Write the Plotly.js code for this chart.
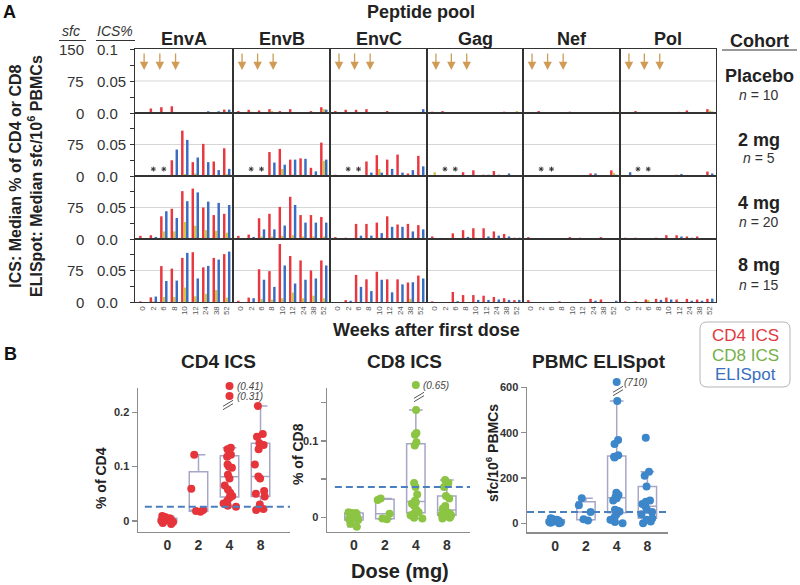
<!DOCTYPE html>
<html><head><meta charset="utf-8">
<script src="https://cdn.plot.ly/plotly-3.0.1.min.js"></script>
<style>body{margin:0;background:#fff}#chart{width:800px;height:585px}</style>
</head><body><div id="chart"></div>
<script>
// ---------------- DATA ----------------
const weeks = ['0','2','6','8','10','12','24','38','52'];
const doseWeeks = [0, 4, 8];
const pools = ['EnvA','EnvB','EnvC','Gag','Nef','Pol'];
const cohorts = ['Placebo','2 mg','4 mg','8 mg'];
const cohortN = [10, 5, 20, 15];
const icsTickVals = [0, 0.05, 0.1];
const icsTickText = ['0.0', '0.05', '0.1'];
const sfcTickText = ['0', '75', '150'];
const sfcPer01 = 150; // 150 sfc/10^6 PBMCs <-> 0.1 %

// CD4 ICS median % ; rows = Placebo, 2 mg, 4 mg, 8 mg
const cd4_EnvA = [
  [0, 0.007, 0.009, 0.0105, 0.001, 0.0015, 0, 0.0016, 0.0053],
  [0.001, null, null, 0.025, 0.072, 0.022, 0.051, 0.023, 0.044],
  [0.005, 0.006, 0.036, 0.048, 0.076, 0.080, 0.050, 0.038, 0.040],
  [0.001, 0.0074, 0.057, 0.053, 0.070, 0.079, 0.055, 0.070, 0.076]];
const cd4_EnvB = [
  [0.003, 0.005, 0.004, 0.006, 0.003, 0.006, 0, 0.003, 0.009],
  [0.001, null, null, 0.038, 0.043, 0.026, 0.028, 0.013, 0.053],
  [0.005, 0.007, 0.033, 0.040, 0.051, 0.067, 0.038, 0.038, 0.035],
  [0.002, 0.007, 0.052, 0.049, 0.092, 0.073, 0.066, 0.050, 0.066]];
const cd4_EnvC = [
  [0.003, 0.005, 0.005, 0.006, 0, 0.003, 0.001, 0.001, 0],
  [0.002, null, null, 0.023, 0.033, 0.026, 0.034, 0.004, 0.032],
  [0.003, 0.002, 0.024, 0.024, 0.026, 0.036, 0.023, 0.024, 0.022],
  [0, 0.003, 0.043, 0.036, 0.048, 0.036, 0.036, 0.031, 0.042]];
const cd4_Gag = [
  [0.002, 0.003, 0.001, 0, 0, 0, 0, 0.002, 0],
  [0, null, null, 0.006, 0.009, 0.002, 0.008, 0, 0],
  [0.004, 0.001, 0.009, 0.014, 0.017, 0.017, 0.012, 0.008, 0.002],
  [0.001, 0, 0.016, 0.011, 0.011, 0.010, 0.008, 0.006, 0.003]];
const cd4_Nef = [
  [0, 0.003, 0, 0, 0.002, 0, 0, 0, 0],
  [0, null, null, 0, 0, 0, 0.004, 0, 0.009],
  [0.003, 0, 0.001, 0.001, 0.003, 0.002, 0, 0.003, 0],
  [0.003, 0, 0, 0.001, 0, 0, 0.005, 0.004, 0]];
const cd4_Pol = [
  [0, 0.003, 0, 0.0015, 0, 0, 0.004, 0, 0.006],
  [0, null, null, 0, 0.001, 0.002, 0.001, 0.001, 0.007],
  [0.002, 0.002, 0.001, 0.002, 0.006, 0.006, 0.004, 0.004, 0],
  [0.001, 0.001, 0.004, 0.005, 0.007, 0.004, 0.005, 0.004, 0.005]];

// CD8 ICS median %
const cd8_EnvA = [
  [0, 0, 0, 0, 0, 0, 0, 0, 0.002],
  [0, null, null, 0.002, 0.003, 0.004, 0.002, 0.001, 0.003],
  [0, 0.001, 0.012, 0.012, 0.027, 0.021, 0.014, 0.013, 0.010],
  [0, 0.001, 0.008, 0.008, 0.023, 0.009, 0.013, 0.019, 0.007]];
const cd8_EnvB = [
  [0, 0.002, 0, 0.003, 0, 0, 0, 0, 0.006],
  [0, null, null, 0.002, 0.011, 0.002, 0.002, 0.001, 0.024],
  [0, 0, 0.004, 0.004, 0.005, 0.006, 0.004, 0.004, 0.004],
  [0, 0, 0.005, 0.004, 0.006, 0.015, 0.006, 0.010, 0.006]];
const cd8_EnvC = [
  [0, 0, 0, 0, 0, 0, 0, 0, 0],
  [0, null, null, 0, 0.011, 0, 0, 0, 0],
  [0, 0, 0, 0, 0.002, 0, 0, 0, 0],
  [0, 0, 0, 0, 0, 0, 0, 0.005, 0]];
const cd8_Gag = [
  [0, 0, 0, 0, 0, 0, 0, 0, 0.003],
  [0.006, null, null, 0, 0, 0, 0, 0, 0],
  [0, 0, 0, 0, 0.002, 0, 0, 0, 0],
  [0, 0, 0, 0, 0, 0, 0, 0, 0]];
const cd8_Nef = [
  [0, 0, 0, 0, 0, 0, 0, 0, 0.002],
  [0, null, null, 0, 0, 0, 0, 0, 0.005],
  [0, 0, 0, 0, 0, 0, 0, 0, 0],
  [0, 0, 0, 0, 0, 0, 0, 0, 0]];
const cd8_Pol = [
  [0, 0, 0, 0, 0, 0.002, 0, 0, 0.004],
  [0, null, null, 0, 0, 0, 0, 0, 0],
  [0, 0, 0, 0, 0, 0, 0, 0, 0],
  [0, 0, 0.003, 0, 0, 0, 0, 0, 0]];

// ELISpot median sfc/10^6 PBMCs
const eli_EnvA = [
  [0, 0, 0, 0, 0, 1.5, 4, 4, 8],
  [0, null, null, 63, 86, 44, 33, 14, 17],
  [0, 5, 66, 50, 90, 111, 89, 86, 81],
  [0, 13, 50, 51, 117, 56, 86, 101, 120]];
const eli_EnvB = [
  [0, 0, 0, 0, 0, 0, 0, 0, 8],
  [0, null, null, 32, 27, 39, 41, 11, 39],
  [0, 5, 23, 23, 32, 81, 39, 39, 39],
  [0, 9, 53, 36, 87, 44, 53, 56, 87]];
const eli_EnvC = [
  [0, 0, 0, 0, 0, 0, 0, 0, 9],
  [0, null, null, 8, 8, 17, 8, 14, 23],
  [0, 2, 8, 8, 14, 29, 29, 18, 23],
  [0, 3, 36, 26, 53, 23, 42, 47, 56]];
const eli_Gag = [
  [0, 0, 0, 0, 0, 2, 0, 0, 0],
  [0, null, null, 0, 0, 3, 3, 6, 0],
  [0, 0, 0, 5, 0, 6, 8, 6, 3],
  [0, 0, 2, 0, 5, 5, 6, 5, 5]];
const eli_Nef = [
  [0, 0, 0, 0, 0, 0, 0, 0, 0],
  [0, null, null, 0, 0, 0, 6, 0, 3],
  [0, 0, 0, 0, 0, 0, 0, 0, 0],
  [0, 0, 0, 0, 0, 0, 3, 0, 3]];
const eli_Pol = [
  [0, 0, 0, 0, 0, 0, 0, 0, 3],
  [9, null, null, 0, 0, 5, 0, 0, 6],
  [0, 0, 0, 0, 0, 6, 3, 0, 0],
  [0, 0, 0, 5, 6, 0, 3, 3, 8]];

// Panel B: individual responses by dose
const doses = ['0', '2', '4', '8'];
const cd4Dose0 = [-0.006, -0.004, -0.002, 0, 0.001, 0.002, 0.003, 0.005, 0.007, 0.009];
const cd4Dose2 = [0.017, 0.018, 0.02, 0.059, 0.122];
const cd4Dose4 = [0.026, 0.028, 0.032, 0.037, 0.042, 0.046, 0.052, 0.058, 0.065, 0.078,
                  0.085, 0.098, 0.10, 0.104, 0.118, 0.122, 0.132, 0.135, 0.31, 0.41];
const cd4Dose8 = [0.02, 0.022, 0.03, 0.045, 0.05, 0.055, 0.078, 0.082, 0.104, 0.132, 0.14, 0.143, 0.155, 0.16, 0.212];
const cd8Dose0 = [-0.012, -0.008, -0.003, -0.002, 0, 0.001, 0.003, 0.006, 0.006, 0.007];
const cd8Dose2 = [-0.002, -0.001, 0.005, 0.023, 0.025];
const cd8Dose4 = [-0.001, 0, 0.003, 0.005, 0.006, 0.007, 0.01, 0.015, 0.018, 0.02,
                  0.022, 0.03, 0.04, 0.045, 0.094, 0.098, 0.108, 0.11, 0.14, 0.65];
const cd8Dose8 = [-0.001, 0, 0.002, 0.003, 0.004, 0.005, 0.008, 0.01, 0.012, 0.015, 0.025, 0.028, 0.04, 0.045, 0.049];
const eliDose0 = [0, 2, 3, 5, 8, 10, 12, 15, 18, 22];
const eliDose2 = [12, 18, 50, 80, 110];
const eliDose4 = [0, 5, 15, 28, 40, 52, 55, 60, 100, 110, 115, 125, 135, 290, 294, 300, 350, 368, 540, 710];
const eliDose8 = [0, 8, 15, 22, 40, 50, 60, 75, 85, 95, 100, 162, 210, 228, 378];
const cutoffs = [0.026, 0.04, 50]; // positivity thresholds: CD4, CD8, ELISpot

// ---------------- LAYOUT HELPERS ----------------
const W = 800, H = 585;
const px = x => x / W;
const py = y => 1 - y / H;
const FONT = 'Liberation Sans, Arial, Helvetica, sans-serif';
const pal = {cd4: '#e8373e', cd8: '#d2c44c', eli: '#3a6dc2'};
const dotPal = {cd4: '#e6343b', cd8: '#8cc443', eli: '#3c86ca'};

const cd4All = [cd4_EnvA, cd4_EnvB, cd4_EnvC, cd4_Gag, cd4_Nef, cd4_Pol];
const cd8All = [cd8_EnvA, cd8_EnvB, cd8_EnvC, cd8_Gag, cd8_Nef, cd8_Pol];
const eliAll = [eli_EnvA, eli_EnvB, eli_EnvC, eli_Gag, eli_Nef, eli_Pol];

const colEdges = [135, 233, 330, 427, 523, 620, 716];
const rowEdges = [49, 113, 176, 239, 302];

const data = [];
const layout = {
  width: W, height: H, margin: {l: 0, r: 0, t: 0, b: 0},
  paper_bgcolor: '#fff', plot_bgcolor: 'rgba(0,0,0,0)',
  font: {family: FONT, color: '#222'},
  showlegend: false, barmode: 'group', bargap: 0.29, bargroupgap: 0,
  boxgap: 0.15, boxmode: 'overlay',
  annotations: [], shapes: []
};
const ann = layout.annotations, shp = layout.shapes;
function txt(x, y, text, opt) {
  ann.push(Object.assign({xref: 'paper', yref: 'paper', x: px(x), y: py(y), text: text,
    showarrow: false, xanchor: 'center', yanchor: 'middle',
    font: {family: FONT, size: 14, color: '#222'}}, opt || {}));
}
function line(x0, y0, x1, y1, color, width) {
  shp.push({type: 'line', xref: 'paper', yref: 'paper', x0: px(x0), y0: py(y0), x1: px(x1), y1: py(y1),
    line: {color: color, width: width}});
}
function weekPos(w) {
  const nums = weeks.map(Number);
  const i = nums.indexOf(w);
  if (i >= 0) return i;
  for (let j = 0; j < nums.length - 1; j++)
    if (w > nums[j] && w < nums[j + 1]) return j + (w - nums[j]) / (nums[j + 1] - nums[j]);
  return 0;
}

// ---------------- PANEL A ----------------
for (let r = 0; r < 4; r++) {
  for (let c = 0; c < 6; c++) {
    const k = r * 6 + c + 1;
    layout['xaxis' + k] = {
      domain: [px(colEdges[c]), px(colEdges[c + 1])], anchor: 'y' + k,
      type: 'category', categoryorder: 'array', categoryarray: weeks,
      range: [-0.75, 8.6], showline: true, linecolor: '#333', linewidth: 1, mirror: true,
      ticks: '', showgrid: false, zeroline: false, showticklabels: r === 3,
      tickangle: -90, tickfont: {family: FONT, size: 8, color: '#555'}, fixedrange: true
    };
    const ya = {
      domain: [py(rowEdges[r + 1]), py(rowEdges[r])], anchor: 'x' + k,
      range: [0, 0.1], showline: true, linecolor: '#333', linewidth: 1, mirror: true,
      showgrid: false, zeroline: false, showticklabels: false, ticks: '', fixedrange: true
    };
    if (c === 0) {
      ya.ticks = 'outside'; ya.ticklen = 4; ya.tickcolor = '#333';
      ya.tickvals = r === 0 ? [0, 0.025, 0.05, 0.075, 0.1] : [0, 0.025, 0.05, 0.075];
    }
    layout['yaxis' + k] = ya;
    // light gridline at 0.05
    shp.push({type: 'line', xref: 'x' + k + ' domain', yref: 'y' + k, x0: 0, x1: 1, y0: 0.05, y1: 0.05,
      line: {color: '#d6d6d6', width: 1}, layer: 'below'});

    const series = [
      [cd4All[c][r], pal.cd4, 1],
      [cd8All[c][r], pal.cd8, 1],
      [eliAll[c][r], pal.eli, 0.1 / sfcPer01]
    ];
    series.forEach(function (s) {
      data.push({type: 'bar', x: weeks, y: s[0].map(v => v === null ? null : v * s[2]),
        xaxis: 'x' + k, yaxis: 'y' + k, marker: {color: s[1], line: {width: 0}}, hoverinfo: 'skip'});
    });
    // not-sampled time points
    const missing = weeks.filter((w, i) => cd4All[c][r][i] === null);
    if (missing.length) {
      data.push({type: 'scatter', mode: 'markers', x: missing, y: missing.map(() => 0.011),
        xaxis: 'x' + k, yaxis: 'y' + k, hoverinfo: 'skip',
        marker: {symbol: 'asterisk-open', size: 4, color: '#333', line: {color: '#333', width: 1}}});
    }
    // vaccination arrows
    if (r === 0) {
      doseWeeks.forEach(function (w) {
        ann.push({xref: 'x' + k, yref: 'y' + k, x: weekPos(w) + 0.12, y: 0.067, text: '',
          showarrow: true, ax: 0, ay: -18, arrowhead: 2, arrowsize: 1.3, arrowwidth: 1.3,
          arrowcolor: '#cf9b55', standoff: 0, startstandoff: 0});
      });
    }
    // left scale labels
    if (c === 0) {
      const nT = r === 0 ? 3 : 2;
      for (let i = 0; i < nT; i++) {
        ann.push({xref: 'paper', yref: 'y' + k, x: px(86), y: icsTickVals[i], text: sfcTickText[i],
          xanchor: 'right', yanchor: 'middle', showarrow: false, font: {family: FONT, size: 15, color: '#333'}});
        ann.push({xref: 'paper', yref: 'y' + k, x: px(95), y: icsTickVals[i], text: icsTickText[i],
          xanchor: 'left', yanchor: 'middle', showarrow: false, font: {family: FONT, size: 15, color: '#333'}});
      }
    }
  }
}
// column titles
pools.forEach((p, c) => txt((colEdges[c] + colEdges[c + 1]) / 2, 39, '<b>' + p + '</b>', {font: {family: FONT, size: 18, color: '#222'}}));
// cohort labels
txt(759, 41, '<b>Cohort</b>', {font: {family: FONT, size: 18, color: '#222'}});
line(722, 50, 797, 50, '#333', 1);
cohorts.forEach((co, r) => {
  const mid = (rowEdges[r] + rowEdges[r + 1]) / 2;
  txt(759, mid - 5, '<b>' + co + '</b>', {font: {family: FONT, size: 18, color: '#222'}});
  txt(759, mid + 14, '<i>n</i> = ' + cohortN[r], {font: {family: FONT, size: 14, color: '#333'}});
});
// headings
txt(9, 12, '<b>A</b>', {font: {family: FONT, size: 18, color: '#111'}});
txt(421, 12, '<b>Peptide pool</b>', {font: {family: FONT, size: 18, color: '#222'}});
txt(71, 31, '<i>sfc</i>', {font: {family: FONT, size: 14, color: '#333'}, borderpad: 0});
txt(115, 31, '<i>ICS%</i>', {font: {family: FONT, size: 14, color: '#333'}, borderpad: 0});
line(59, 40.5, 86, 40.5, '#333', 1);
line(96, 40.5, 135, 40.5, '#333', 1);
txt(26, 176, '<b>ICS: Median % of CD4 or CD8</b><br><b>ELISpot: Median sfc/10<sup>6</sup> PBMCs</b>',
  {textangle: -90, font: {family: FONT, size: 16, color: '#222'}});
txt(426, 330, '<b>Weeks after first dose</b>', {font: {family: FONT, size: 18, color: '#222'}});

// ---------------- PANEL B ----------------
const breakZone = [378, 402]; // pixel band above each panel where off-scale values are shown
const bPanels = [
  {k: 25, kb: 28, groups: [cd4Dose0, cd4Dose2, cd4Dose4, cd4Dose8], color: dotPal.cd4, cut: cutoffs[0],
   x0: 138, x1: 290, yTop: 388, yBot: 531.7, range: [-0.02, 0.245], xr: [-0.95, 3.95],
   tickvals: [0, 0.1, 0.2], ticktext: ['0', '0.1', '0.2'], minorvals: [], cutStart: 0.045,
   title: 'CD4 ICS', titleX: 218, ytitle: '% of CD4', ytX: 101, ytY: 478,
   outPix: [386, 396], brk: [228, 405]},
  {k: 26, kb: 29, groups: [cd8Dose0, cd8Dose2, cd8Dose4, cd8Dose8], color: dotPal.cd8, cut: cutoffs[1],
   x0: 327, x1: 470, yTop: 388, yBot: 531.7, range: [-0.0183, 0.1687], xr: [-0.87, 3.75],
   tickvals: [0, 0.1], ticktext: ['0', '0.1'], minorvals: [0.05, 0.15], cutStart: 0.055,
   title: 'CD8 ICS', titleX: 404, ytitle: '% of CD8', ytX: 298, ytY: 454,
   outPix: [385], brk: [419, 397]},
  {k: 27, kb: 30, groups: [eliDose0, eliDose2, eliDose4, eliDose8], color: dotPal.eli, cut: cutoffs[2],
   x0: 527, x1: 668, yTop: 387, yBot: 532.3, range: [-40, 602], xr: [-0.92, 3.67],
   tickvals: [0, 200, 400, 600], ticktext: ['0', '200', '400', '600'], minorvals: [], cutStart: 0.0,
   title: 'PBMC ELISpot', titleX: 599, ytitle: 'sfc/10<sup>6</sup> PBMCs', ytX: 492, ytY: 453,
   outPix: [382], brk: [618, 391]}
];
bPanels.forEach(function (b) {
  const k = b.k;
  layout['xaxis' + k] = {
    domain: [px(b.x0), px(b.x1)], anchor: 'y' + k, type: 'category',
    categoryorder: 'array', categoryarray: doses, range: b.xr,
    showline: true, linecolor: '#8d8d8d', linewidth: 1.5, ticks: '', showgrid: false, zeroline: false,
    tickfont: {family: FONT, size: 14, color: '#333', weight: 'bold'}, fixedrange: true
  };
  const yax = {
    domain: [py(b.yBot), py(b.yTop)], anchor: 'x' + k, range: b.range,
    showline: true, linecolor: '#8d8d8d', linewidth: 1.5, ticks: 'outside', ticklen: 5,
    tickcolor: '#8d8d8d', tickwidth: 1.5, tickvals: b.tickvals, ticktext: b.ticktext,
    tickfont: {family: FONT, size: 11, color: '#333', weight: 'bold'},
    showgrid: false, zeroline: false, fixedrange: true
  };
  if (b.minorvals.length) {
    yax.minor = {tickmode: 'array', tickvals: b.minorvals, ticks: 'outside', ticklen: 5,
      tickcolor: '#8d8d8d', tickwidth: 1.5, showgrid: false};
  }
  layout['yaxis' + k] = yax;
  // invisible axis for the break band (in page pixels, top-down)
  layout['yaxis' + b.kb] = {domain: [py(breakZone[1]), py(breakZone[0])], anchor: 'x' + k,
    range: [breakZone[1], breakZone[0]], visible: false, fixedrange: true};

  const x = [], y = [];
  b.groups.forEach((vals, i) => vals.forEach(v => { x.push(doses[i]); y.push(v); }));
  data.push({type: 'box', x: x, y: y, xaxis: 'x' + k, yaxis: 'y' + k,
    boxpoints: 'all', jitter: 0.8, pointpos: 0, quartilemethod: 'exclusive', whiskerwidth: 0.75,
    fillcolor: 'rgba(0,0,0,0)', line: {color: '#a6a6c6', width: 1.5},
    marker: {color: b.color, size: 8, opacity: 1, line: {width: 0}}, hoverinfo: 'skip'});
  // off-scale values shown in the break band with their real value
  const top = b.range[1];
  const offX = [], offVals = [];
  b.groups.forEach((vals, i) => vals.filter(v => v > top).sort((p, q) => q - p)
    .forEach(v => { offX.push(doses[i]); offVals.push(v); }));
  data.push({type: 'scatter', mode: 'markers', x: offX, y: offVals.map((v, j) => b.outPix[j]),
    xaxis: 'x' + k, yaxis: 'y' + b.kb, hoverinfo: 'skip', cliponaxis: false,
    marker: {color: b.color, size: 8}});
  offVals.forEach((v, j) => ann.push({xref: 'x' + k, yref: 'y' + b.kb, x: doses.indexOf(offX[j]), y: b.outPix[j],
    xanchor: 'left', yanchor: 'middle', xshift: 5, showarrow: false, text: '<i>(' + v + ')</i>',
    font: {family: FONT, size: 10, color: '#444'}}));
  // axis-break marks
  [-1.7, 1.7].forEach(d => line(b.brk[0] - 5, b.brk[1] + 3 + d, b.brk[0] + 5, b.brk[1] - 3 + d, '#555', 1));
  // positivity cut-off
  shp.push({type: 'line', xref: 'x' + k + ' domain', yref: 'y' + k, x0: b.cutStart, x1: 1,
    y0: b.cut, y1: b.cut, line: {color: '#4a7fc0', width: 2, dash: '7px,4px'}});
  txt(b.titleX, 361, '<b>' + b.title + '</b>', {font: {family: FONT, size: 19, color: '#222'}});
  txt(b.ytX, b.ytY, '<b>' + b.ytitle + '</b>', {textangle: -90, font: {family: FONT, size: 14, color: '#222'}});
});
txt(10, 354, '<b>B</b>', {font: {family: FONT, size: 18, color: '#111'}});
txt(400, 571, '<b>Dose (mg)</b>', {font: {family: FONT, size: 20, color: '#222'}});

// legend box
(function () {
  const x0 = px(700), x1 = px(790), y0 = py(322), y1 = py(387);
  const rx = 7 / W, ry = 7 / H;
  shp.push({type: 'path', xref: 'paper', yref: 'paper', line: {color: '#b5b5b5', width: 1},
    path: 'M' + (x0 + rx) + ',' + y0 + ' L' + (x1 - rx) + ',' + y0 + ' Q' + x1 + ',' + y0 + ' ' + x1 + ',' + (y0 - ry) +
      ' L' + x1 + ',' + (y1 + ry) + ' Q' + x1 + ',' + y1 + ' ' + (x1 - rx) + ',' + y1 +
      ' L' + (x0 + rx) + ',' + y1 + ' Q' + x0 + ',' + y1 + ' ' + x0 + ',' + (y1 + ry) +
      ' L' + x0 + ',' + (y0 - ry) + ' Q' + x0 + ',' + y0 + ' ' + (x0 + rx) + ',' + y0 + ' Z'});
  const items = [['CD4 ICS', '#e0393e', 335.5], ['CD8 ICS', '#74b04a', 355], ['ELISpot', '#3a6ec0', 374.5]];
  items.forEach(it => txt(745, it[2], it[0], {font: {family: FONT, size: 17, color: it[1]}, borderpad: 0}));
})();

Plotly.newPlot('chart', data, layout, {staticPlot: true, displayModeBar: false});
</script>
</body></html>
